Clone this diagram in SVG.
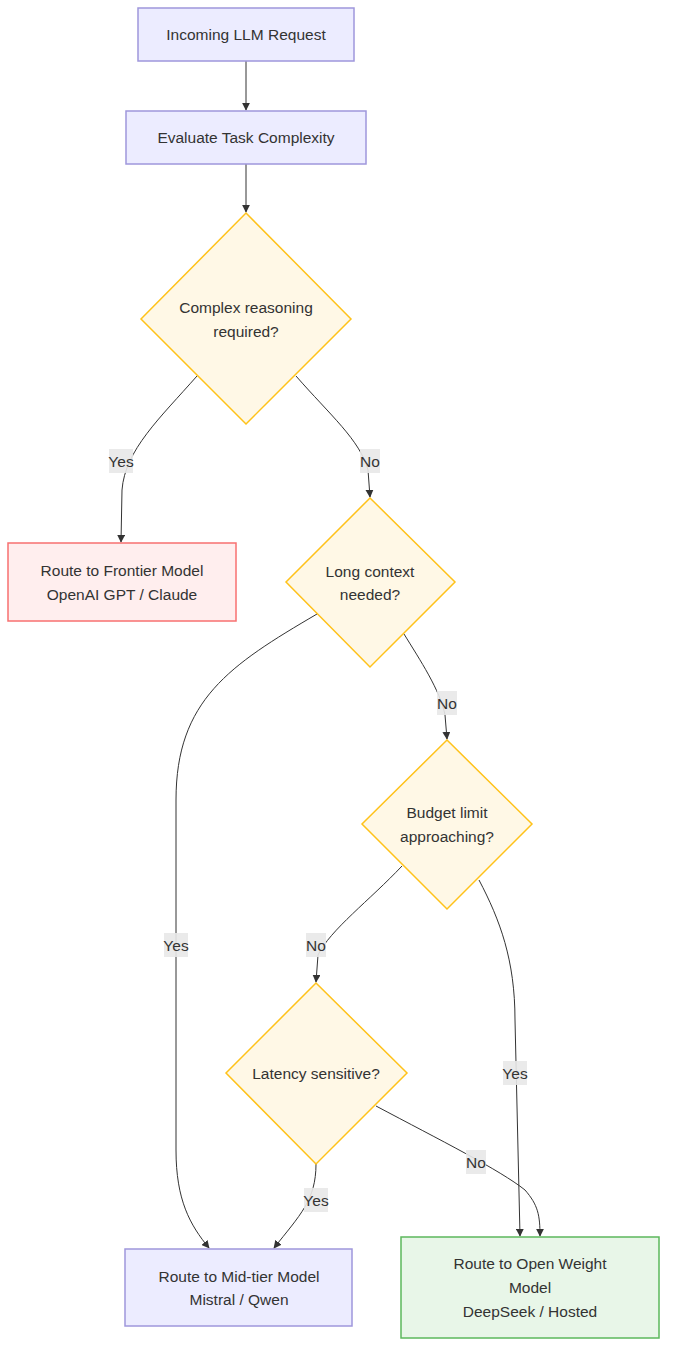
<svg xmlns="http://www.w3.org/2000/svg" width="675" height="1361" viewBox="0 0 675 1361">
<style>
.t{font-family:"Liberation Sans",Arial,sans-serif;font-size:15.5px;fill:#333;text-anchor:middle;dominant-baseline:central}
.box{fill:#ececff;stroke:#9f97dc;stroke-width:1.5}
.dia{fill:#fff8e6;stroke:#ffc21a;stroke-width:1.5}
.e{fill:none;stroke:#333;stroke-width:1}
.lb{fill:#e8e8e8;opacity:0.9}
</style>
<defs>
<marker id="ah" viewBox="0 0 10 10" refX="9" refY="5" markerWidth="8" markerHeight="8" orient="auto" markerUnits="userSpaceOnUse">
<path d="M0,0 L10,5 L0,10 z" fill="#333"/>
</marker>
</defs>
<rect width="675" height="1361" fill="#fff"/>
<g id="connectors">
<path class="e" d="M246,61 L246,110" marker-end="url(#ah)"/>
<path class="e" d="M246,164 L246,212" marker-end="url(#ah)"/>
<path class="e" d="M197,376 C160,418 125,450 122,490 L121,542" marker-end="url(#ah)"/>
<path class="e" d="M296,376 C330,415 360,440 368,470 L370,497" marker-end="url(#ah)"/>
<path class="e" d="M317,614 C230,665 176,700 176,800 L176,1150 C176,1200 190,1225 209,1248" marker-end="url(#ah)"/>
<path class="e" d="M404,634 C420,660 440,690 445,715 L447,739" marker-end="url(#ah)"/>
<path class="e" d="M402,866 C370,900 330,930 318,955 L316,982" marker-end="url(#ah)"/>
<path class="e" d="M479,880 C500,920 515,960 515,1020 L520,1236" marker-end="url(#ah)"/>
<path class="e" d="M316,1164 C316,1200 300,1215 274,1248" marker-end="url(#ah)"/>
<path class="e" d="M376,1106 C440,1140 500,1170 525,1190 C538,1205 540,1215 540,1236" marker-end="url(#ah)"/>
<g id="labels">
<rect class="lb" x="109" y="449" width="24" height="24"/><text class="t" x="121" y="461">Yes</text>
<rect class="lb" x="360" y="449" width="20" height="24"/><text class="t" x="370" y="461">No</text>
<rect class="lb" x="437" y="691" width="20" height="24"/><text class="t" x="447" y="703">No</text>
<rect class="lb" x="164" y="933" width="24" height="24"/><text class="t" x="176" y="945">Yes</text>
<rect class="lb" x="306" y="933" width="20" height="24"/><text class="t" x="316" y="945">No</text>
<rect class="lb" x="503" y="1061" width="24" height="24"/><text class="t" x="515" y="1073">Yes</text>
<rect class="lb" x="466" y="1150" width="20" height="24"/><text class="t" x="476" y="1162">No</text>
<rect class="lb" x="304" y="1188" width="24" height="24"/><text class="t" x="316" y="1200">Yes</text>
</g>
</g>
<g id="A"><rect class="box" x="138" y="8" width="216" height="53"/><text class="t" x="246" y="34.5">Incoming LLM Request</text></g>
<g id="B"><rect class="box" x="126" y="111" width="240" height="53"/><text class="t" x="246" y="137.5">Evaluate Task Complexity</text></g>
<g id="C"><polygon class="dia" points="246,213 351,319 246,424 141,319"/><text class="t" x="246" y="307">Complex reasoning</text><text class="t" x="246" y="331">required?</text></g>
<g id="D"><rect x="8" y="543" width="228" height="78" fill="#ffeeee" stroke="#f87070" stroke-width="1.5"/><text class="t" x="122" y="570">Route to Frontier Model</text><text class="t" x="122" y="594">OpenAI GPT / Claude</text></g>
<g id="E"><polygon class="dia" points="370,498 455,582 370,667 286,582"/><text class="t" x="370" y="571">Long context</text><text class="t" x="370" y="594">needed?</text></g>
<g id="F"><polygon class="dia" points="447,740 532,824 447,909 362,824"/><text class="t" x="447" y="812">Budget limit</text><text class="t" x="447" y="836">approaching?</text></g>
<g id="H"><polygon class="dia" points="316,983 407,1073 316,1164 226,1073"/><text class="t" x="316" y="1073">Latency sensitive?</text></g>
<g id="G"><rect class="box" x="125" y="1249" width="227" height="77"/><text class="t" x="239" y="1276">Route to Mid-tier Model</text><text class="t" x="239" y="1299">Mistral / Qwen</text></g>
<g id="I"><rect x="401" y="1237" width="258" height="101" fill="#e8f6e8" stroke="#5cb85c" stroke-width="1.5"/><text class="t" x="530" y="1263">Route to Open Weight</text><text class="t" x="530" y="1287">Model</text><text class="t" x="530" y="1311">DeepSeek / Hosted</text></g>
</svg>
